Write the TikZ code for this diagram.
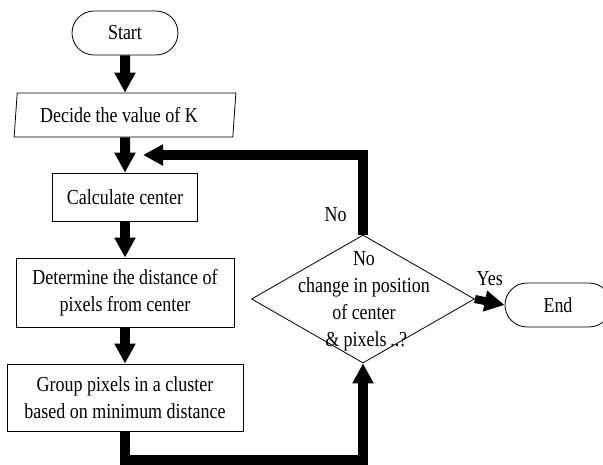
\documentclass[tikz,border=0pt]{standalone}
\usepackage{fontspec}
\setmainfont{Liberation Serif}[FakeStretch=0.84]
\usetikzlibrary{shapes.geometric,shapes.misc,arrows.meta}

\begin{document}
\begin{tikzpicture}[x=1pt,y=-1pt,
    box/.style={draw, line width=0.8pt, font=\fontsize{21.4}{27.5}\selectfont, align=center, inner sep=0pt},
    term/.style={box, rounded rectangle, minimum height=44pt},
    lbl/.style={font=\fontsize{21.4}{27}\selectfont},
    flow/.style={line width=10pt, line join=miter, -{Triangle[width=20pt,length=20pt]}}]
    \useasboundingbox (0,0) rectangle (603,465);
    \node[term, minimum width=106pt] (start) at (125,33) {Start};
    \node[box, trapezium, trapezium left angle=81, trapezium right angle=99,
          trapezium stretches=true, minimum width=222pt, minimum height=44pt] (dec) at (125,115) {Decide the value of K\hspace{12pt}};
    \node[box, minimum width=145pt, minimum height=48pt] (calc) at (125,197) {Calculate center};
    \node[box, minimum width=218pt, minimum height=69pt] (dist) at (125,292.5) {Determine the distance of\\pixels from center};
    \node[box, minimum width=236pt, minimum height=67pt] (grp) at (125,397.5) {Group pixels in a cluster\\based on minimum distance};
    \node[box, diamond, minimum width=223pt, minimum height=128pt] (chk) at (363,299) {};
    \node[lbl, align=center] (chktxt) at (364,301) {No\\change in position\\of center\\\ \& pixels\,..?};
    \node[term, minimum width=106pt] (stop) at (558,305) {End};
    \coordinate (back) at (143,155);
    % main flow
    \draw[flow] (start) -- (dec);
    \draw[flow] (dec) -- (calc);
    \draw[flow] (calc) -- (dist);
    \draw[flow] (dist) -- (grp);
    \draw[flow] (grp.south) -- ++(0,29) -| (chk.south);
    % decision
    \draw[flow] (chk.north) |- node[lbl, pos=0.125, left, xshift=-8pt] {No} (back);
    \draw[flow, line width=8pt] (chk.east) -- node[lbl, above, yshift=9pt] {Yes} (stop.west);
\end{tikzpicture}
\end{document}
